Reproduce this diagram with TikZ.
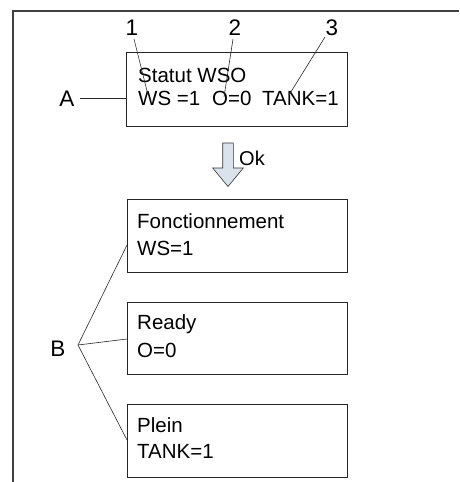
\documentclass[tikz,border=0pt]{standalone}
\usepackage{fontspec}
\setmainfont{Liberation Sans}
\definecolor{arrowfill}{RGB}{218,226,236}
\begin{document}
\begin{tikzpicture}[x=1pt,y=-1pt,
  frameline/.style={draw=black!75,line width=1.2pt},
  boxstyle/.style={draw=black!85,line width=0.9pt},
  leader/.style={draw=black!85,line width=0.6pt},
  txt/.style={inner sep=0pt,anchor=base west,font=\fontsize{20.5}{23}\selectfont},
  lbl/.style={inner sep=0pt,font=\fontsize{22.5}{25}\selectfont}]
\useasboundingbox (0,0) rectangle (459,482);
% frame
\draw[frameline] (13,482) -- (13,11) -- (459,11);
% box A
\draw[boxstyle] (126,52) rectangle (347,126);
\node[txt] (ta) at (138,82) {Statut WSO};
\node[txt] (ws) at (138,105) {WS =1};
\node[txt] (o) at (212,105) {O=0};
\node[txt] (tank) at (262,105) {TANK=1};
% labels 1 2 3 A
\node[lbl] (n1) at (132,28) {1};
\node[lbl] (n2) at (235,28) {2};
\node[lbl] (n3) at (332,28) {3};
\node[lbl] (lA) at (67,99) {A};
\coordinate (p1) at (148,95);
\coordinate (p2) at (224,97);
\coordinate (p3) at (289,95);
\coordinate (pA) at (126,98);
\draw[leader] (134,39) -- (p1);
\draw[leader] (233,39) -- (p2);
\draw[leader] (325,37) -- (p3);
\draw[leader] (80,98) -- (pA);
% block arrow
\draw[black!80,line width=0.6pt,fill=arrowfill] (222.7,143) -- (233.3,143) -- (233.3,168) -- (243.3,168) -- (228,186.5) -- (212.7,168) -- (222.7,168) -- cycle;
\node[txt,font=\fontsize{20}{22}\selectfont] (ok) at (239,165) {Ok};
% boxes B
\draw[boxstyle] (127,199) rectangle (347,272);
\node[txt] (f1) at (137,228) {Fonctionnement};
\node[txt] (f2) at (137,255) {WS=1};
\draw[boxstyle] (127,302) rectangle (347,374);
\node[txt] (r1) at (137,329) {Ready};
\node[txt] (r2) at (137,357) {O=0};
\draw[boxstyle] (127,404) rectangle (347,477);
\node[txt] (pl1) at (137,432) {Plein};
\node[txt] (pl2) at (137,458) {TANK=1};
% label B
\node[lbl] (lB) at (58,349) {B};
\coordinate (vB) at (78,345);
\coordinate (b1) at (127,245);
\coordinate (b2) at (127,339);
\coordinate (b3) at (127,440);
\draw[leader] (b1) -- (vB) -- (b3);
\draw[leader] (vB) -- (b2);
\end{tikzpicture}
\end{document}
